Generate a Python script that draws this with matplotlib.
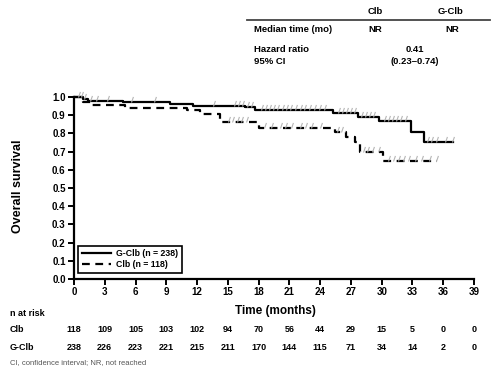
import numpy as np
import matplotlib
matplotlib.use("Agg")
import matplotlib.pyplot as plt
from matplotlib.path import Path
from matplotlib.lines import Line2D
from matplotlib.transforms import blended_transform_factory

plt.rcParams['font.family'] = ['Liberation Sans', 'DejaVu Sans']

# Kaplan-Meier steps (time in months, survival)
gclb_t = [0, 0.9, 1.4, 4.8, 7.4, 9.4, 11.6, 16.7, 17.6, 25.3, 27.7, 29.7, 32.9, 34.1, 37.0]
gclb_s = [1.0, 0.989, 0.98, 0.975, 0.97, 0.962, 0.952, 0.943, 0.93, 0.91, 0.89, 0.87, 0.81, 0.751, 0.751]
clb_t = [0, 0.9, 1.7, 5.0, 11.0, 12.3, 14.2, 18.0, 25.4, 26.5, 27.4, 27.9, 30.1, 35.4]
clb_s = [1.0, 0.975, 0.956, 0.94, 0.93, 0.907, 0.863, 0.83, 0.81, 0.782, 0.755, 0.70, 0.648, 0.648]

# censoring times (grey tick marks)
gclb_cens = [0.4, 0.7, 1.0, 1.6, 2.1, 3.2, 5.6, 7.8, 13.6, 15.6, 16.0, 16.4, 16.9, 17.3,
             18.2, 18.6, 19.0, 19.4, 19.8, 20.3, 20.7, 21.1, 21.5, 22.0, 22.4, 22.9, 23.4,
             23.9, 24.4, 25.7, 26.1, 26.5, 26.9, 27.3, 28.0, 28.4, 28.8, 29.2,
             30.2, 30.6, 31.0, 31.4, 31.8, 32.3, 34.4, 34.8, 35.3, 36.2, 36.9]
clb_cens = [15.0, 15.4, 15.9, 16.3, 16.8, 18.5, 19.2, 20.1, 20.6, 21.2, 22.0, 22.5,
            23.1, 24.0, 25.6, 26.0, 28.2, 28.6, 29.1, 29.6, 30.6, 31.1, 31.6, 32.1,
            32.6, 33.2, 33.8, 34.6, 35.3]

months = list(range(0, 40, 3))
risk_clb = [118, 109, 105, 103, 102, 94, 70, 56, 44, 29, 15, 5, 0, 0]
risk_gclb = [238, 226, 223, 221, 215, 211, 170, 144, 115, 71, 34, 14, 2, 0]


def step_value(t, s, x):
    idx = np.searchsorted(t, x, side='right') - 1
    return np.array(s)[idx]


W, H = 504, 372
fig = plt.figure(figsize=(W / 100, H / 100), dpi=100)
ax = fig.add_axes([74 / W, 1 - 279 / H, 400 / W, 182 / H])

ax.step(gclb_t, gclb_s, where='post', color='black', lw=1.6, label='G-Clb (n = 238)', clip_on=False)
ax.step(clb_t, clb_s, where='post', color='black', lw=1.6, ls=(0, (3.5, 2.5)),
        label='Clb (n = 118)', clip_on=False)

# slanted censor marks anchored at the curve
cens_marker = Path([(0, 0), (0.35, 1)], [Path.MOVETO, Path.LINETO])
for t, s, c in [(gclb_t, gclb_s, gclb_cens), (clb_t, clb_s, clb_cens)]:
    ax.plot(c, step_value(t, s, c), ls='none', marker=cens_marker, ms=8,
            mec='#b5b5b5', mew=0.8, clip_on=False)

ax.set_xlim(0, 39)
ax.set_ylim(0, 1.0)
ax.set_xticks(months)
ax.set_yticks(np.arange(0, 1.01, 0.1))
ax.yaxis.set_major_formatter(matplotlib.ticker.FormatStrFormatter('%.1f'))
for sp in ['top', 'right']:
    ax.spines[sp].set_visible(False)
for sp in ['left', 'bottom']:
    ax.spines[sp].set_linewidth(1.6)
ax.tick_params(direction='out', length=4, width=1.4, labelsize=7, pad=2)
for lab in ax.get_xticklabels() + ax.get_yticklabels():
    lab.set_fontweight('bold')

leg = ax.legend(loc='lower left', bbox_to_anchor=(0.01, 0.033), borderaxespad=0,
                prop={'weight': 'bold', 'size': 6.3}, fancybox=False, edgecolor='black',
                framealpha=1, handlelength=3.4, handletextpad=0.6, borderpad=0.4,
                labelspacing=0.25)
leg.get_frame().set_linewidth(1.2)

def fx(px):
    return px / W

def fy(py):
    return 1 - py / H

fig.text(fx(18), fy(186), 'Overall survival', rotation=90, ha='center', va='center',
         fontsize=9, fontweight='bold')
fig.text(fx(275), fy(311), 'Time (months)', ha='center', va='center',
         fontsize=8.5, fontweight='bold')

# top summary table
fig.add_artist(Line2D([fx(247), fx(490)], [fy(20), fy(20)], color='#444444', lw=1.3))
tk = dict(fontsize=6.8, fontweight='bold', va='center')
fig.text(fx(375), fy(11), 'Clb', ha='center', **tk)
fig.text(fx(451), fy(11), 'G-Clb', ha='center', **tk)
fig.text(fx(254), fy(29), 'Median time (mo)', ha='left', **tk)
fig.text(fx(375), fy(29), 'NR', ha='center', **tk)
fig.text(fx(452), fy(29), 'NR', ha='center', **tk)
fig.text(fx(254), fy(50), 'Hazard ratio', ha='left', **tk)
fig.text(fx(254), fy(62), '95% CI', ha='left', **tk)
fig.text(fx(415), fy(50), '0.41', ha='center', **tk)
fig.text(fx(415), fy(62), '(0.23\u20130.74)', ha='center', **tk)

# number at risk
trans = blended_transform_factory(ax.transData, fig.transFigure)
rk = dict(fontsize=6.5, fontweight='bold', va='center')
fig.text(fx(10), fy(314), 'n at risk', ha='left', **rk)
fig.text(fx(10), fy(330), 'Clb', ha='left', **rk)
fig.text(fx(10), fy(347), 'G-Clb', ha='left', **rk)
for m, a, b in zip(months, risk_clb, risk_gclb):
    ax.text(m, fy(330), str(a), ha='center', transform=trans, **rk)
    ax.text(m, fy(347), str(b), ha='center', transform=trans, **rk)

fig.text(fx(10), fy(363), 'CI, confidence interval; NR, not reached', ha='left', va='center',
         fontsize=5.5, color='#555555')

fig.savefig('out.png', dpi=100)
